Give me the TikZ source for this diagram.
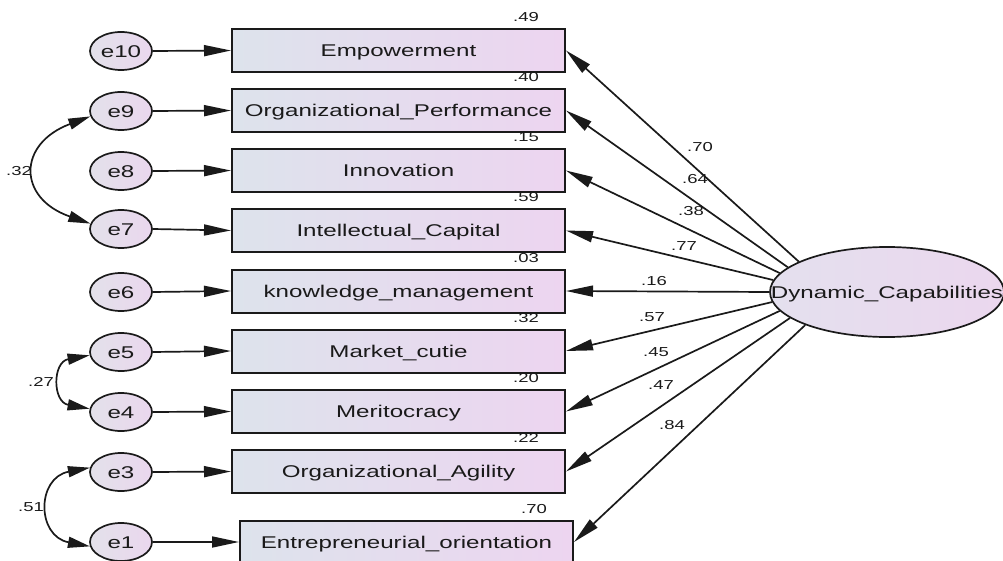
\documentclass[tikz,border=0pt]{standalone}
\usepackage{fontspec}
\usetikzlibrary{arrows.meta,shapes.geometric}
\newfontfamily\dfont[FakeStretch=1.42]{Liberation Sans}
\definecolor{boxL}{HTML}{DDE3EC}
\definecolor{boxR}{HTML}{EDD5F0}
\definecolor{eL}{HTML}{E3E1EA}
\definecolor{eR}{HTML}{EAD7EE}
\definecolor{dcL}{HTML}{E4E0EE}
\definecolor{dcR}{HTML}{EBD7EE}
\definecolor{ink}{HTML}{1A1A1A}
\tikzset{
 bigtext/.style={font=\dfont\fontsize{17}{20}\selectfont, text=ink, text height=12.3pt, text depth=0pt},
 obsbox/.style={bigtext, draw=ink, line width=2pt, left color=boxL, right color=boxR,
   minimum width=333pt, minimum height=43pt, inner sep=0pt},
 errc/.style={bigtext, ellipse, draw=ink, line width=1.7pt, left color=eL, right color=eR,
   minimum width=62pt, minimum height=38pt, inner sep=0pt},
 latent/.style={ellipse, draw=ink, line width=1.7pt, left color=dcL, right color=dcR,
   minimum width=234pt, minimum height=90pt, inner sep=0pt},
 lattext/.style={bigtext, inner sep=0pt},
 num/.style={inner sep=0pt, font=\dfont\fontsize{13}{15}\selectfont, text=ink, text height=9.3pt, text depth=0pt},
 reg/.style={draw=ink, line width=1.7pt, -{Triangle[length=27pt,width=11pt]}},
 cov/.style={draw=ink, line width=1.7pt, {Triangle[length=22pt,width=11pt]}-{Triangle[length=22pt,width=11pt]}},
}
\begin{document}
\begin{tikzpicture}[x=1pt,y=-1pt]
\fill[white] (0,0) rectangle (1003,561);
\useasboundingbox (0,0) rectangle (1003,561);

% observed variables
\node[obsbox] (b1) at (398.5,50.5) {Empowerment};
\node[obsbox] (b2) at (398.5,110.5) {Organizational\_Performance};
\node[obsbox] (b3) at (398.5,170.5) {Innovation};
\node[obsbox] (b4) at (398.5,230.5) {Intellectual\_Capital};
\node[obsbox] (b5) at (398.5,291) {knowledge\_management};
\node[obsbox] (b6) at (398.5,351) {Market\_cutie};
\node[obsbox] (b7) at (398.5,411.5) {Meritocracy};
\node[obsbox] (b8) at (398.5,471.5) {Organizational\_Agility};
\node[obsbox] (b9) at (406.5,542) {Entrepreneurial\_orientation};

% error terms
\node[errc] (e10) at (121,51) {e10};
\node[errc] (e9) at (121,111) {e9};
\node[errc] (e8) at (121,171) {e8};
\node[errc] (e7) at (121,229) {e7};
\node[errc] (e6) at (121,292) {e6};
\node[errc] (e5) at (121,352) {e5};
\node[errc] (e4) at (121,412) {e4};
\node[errc] (e3) at (121,472) {e3};
\node[errc] (e1) at (121,542) {e1};

% latent
\node[latent] (dc) at (887,292) {};
\node[lattext] (dct) at (dc.center) {Dynamic\_Capabilities};

% error arrows
\foreach \e/\b in {e10/b1,e9/b2,e8/b3,e7/b4,e6/b5,e5/b6,e4/b7,e3/b8,e1/b9}
  \draw[reg] (\e.east) -- (\b.west);

% loadings
\draw[reg] (dc.161) -- (b1.east);
\draw[reg] (dc.166) -- (b2.east);
\draw[reg] (dc.170) -- (b3.east);
\draw[reg] (dc.174) -- (b4.east);
\draw[reg] (dc.180) -- (b5.east);
\draw[reg] (dc.185) -- (b6.east);
\draw[reg] (dc.190) -- (b7.east);
\draw[reg] (dc.195) -- (b8.east);
\draw[reg] (dc.202) -- (b9.east);

% covariances
\draw[cov] (e9.190) .. controls (17.3,143.7) and (17.3,198.3) .. (e7.170);
\draw[cov] (e5.186) .. controls (52.3,362) and (52.3,402) .. (e4.174);
\draw[cov] (e3.172) .. controls (36.3,477.8) and (36.3,536.2) .. (e1.188);
\node[num] (c1) at (19,171) {.32};
\node[num] (c2) at (41,382) {.27};
\node[num] (c3) at (31,507) {.51};

% squared multiple correlations
\foreach \b/\v in {b1/.49,b2/.40,b3/.15,b4/.59,b5/.03,b6/.32,b7/.20,b8/.22,b9/.70}
  \node[num] (r\b) at ([xshift=-40pt,yshift=11pt]\b.north east) {\v};

% loading values
\node[num] (l1) at (700,147) {.70};
\node[num] (l2) at (695,179) {.64};
\node[num] (l3) at (691,211) {.38};
\node[num] (l4) at (684,246) {.77};
\node[num] (l5) at (654,281) {.16};
\node[num] (l6) at (652,317) {.57};
\node[num] (l7) at (656,352) {.45};
\node[num] (l8) at (661,385) {.47};
\node[num] (l9) at (672,425) {.84};
\end{tikzpicture}
\end{document}
